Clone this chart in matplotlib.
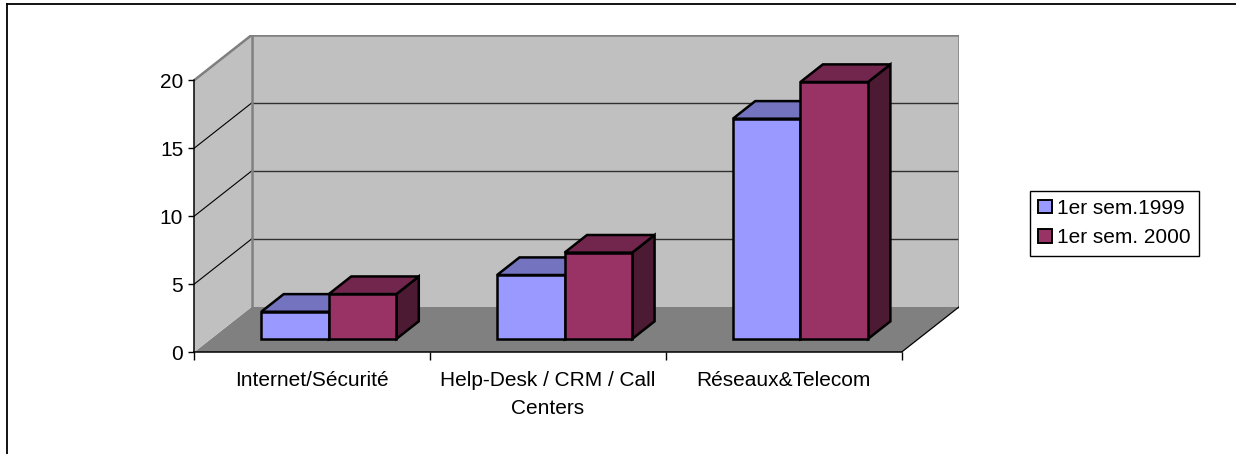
import textwrap
import matplotlib
matplotlib.use("Agg")
import matplotlib.pyplot as plt
from matplotlib.patches import Polygon, Patch
from matplotlib.lines import Line2D

# ---- data ----
categories = ["Internet/Sécurité", "Help-Desk / CRM / Call Centers", "Réseaux&Telecom"]
series_names = ["1er sem.1999", "1er sem. 2000"]
values_1999 = [2.0, 4.7, 16.2]
values_2000 = [3.3, 6.35, 18.9]
y_ticks = [0, 5, 10, 15, 20]

# ---- style ----
front_cols = ["#9999FF", "#993366"]
top_cols = ["#7373BF", "#73264D"]
side_cols = ["#4D4D80", "#4D1A33"]
WALL = "#C0C0C0"
FLOOR = "#808080"
EDGE_GRAY = "#808080"
FONT = "Liberation Sans"
FS = 15

DX, DY = 0.2434, 3.32      # depth offset (category units, value units)
BW = 0.2865                # bar width (category units)
D0, D1 = 0.29, 0.68        # bar depth range
YMAX = 20
N = len(categories)


def P(x, y, d):
    return (x + DX * d, y + DY * d)


fig = plt.figure(figsize=(12.36, 4.54), dpi=100)
ax = fig.add_axes([194.3 / 1236, 102 / 454, 764.8 / 1236, 317 / 454])
ax.set_xlim(0, N + DX)
ax.set_ylim(0, YMAX + DY)
ax.patch.set_visible(False)

# walls and floor
floor = Polygon([P(0, 0, 0), P(N, 0, 0), P(N, 0, 1), P(0, 0, 1)], closed=True,
                facecolor=FLOOR, edgecolor="none", zorder=1)
back = Polygon([P(0, 0, 1), P(N, 0, 1), P(N, YMAX, 1), P(0, YMAX, 1)], closed=True,
               facecolor=WALL, edgecolor="none", zorder=1)
side = Polygon([P(0, 0, 0), P(0, 0, 1), P(0, YMAX, 1), P(0, YMAX, 0)], closed=True,
               facecolor=WALL, edgecolor="none", zorder=1)
for p in (floor, back, side):
    ax.add_patch(p)

# gridlines
for v in y_ticks[1:-1]:
    a, b = P(0, v, 1), P(N, v, 1)
    ax.plot([a[0], b[0]], [a[1], b[1]], color="#303030", lw=1.0, zorder=2)
for v in y_ticks[1:]:
    a, b = P(0, v, 0), P(0, v, 1)
    ax.plot([a[0], b[0]], [a[1], b[1]], color="black", lw=0.8, zorder=2)

# wall edges (gray)
for seg in [(P(0, YMAX, 0), P(0, YMAX, 1)), (P(0, YMAX, 1), P(N, YMAX, 1)),
            (P(N, YMAX, 1), P(N, 0, 1)), (P(0, 0, 1), P(0, YMAX, 1))]:
    ax.plot([seg[0][0], seg[1][0]], [seg[0][1], seg[1][1]], color=EDGE_GRAY,
            lw=1.8, zorder=2, solid_capstyle="projecting")
# floor right edge
a, b = P(N, 0, 0), P(N, 0, 1)
ax.plot([a[0], b[0]], [a[1], b[1]], color="black", lw=0.9, zorder=2)

# bars
z = 3
for i in range(N):
    for j, vals in enumerate([values_1999, values_2000]):
        h = vals[i]
        x0 = i + 0.5 - BW + j * BW
        x1 = x0 + BW
        faces = [
            ([P(x1, 0, D0), P(x1, 0, D1), P(x1, h, D1), P(x1, h, D0)], side_cols[j]),
            ([P(x0, h, D0), P(x1, h, D0), P(x1, h, D1), P(x0, h, D1)], top_cols[j]),
            ([P(x0, 0, D0), P(x1, 0, D0), P(x1, h, D0), P(x0, h, D0)], front_cols[j]),
        ]
        for pts, col in faces:
            ax.add_patch(Polygon(pts, closed=True, facecolor=col, edgecolor="black",
                                 lw=1.8, joinstyle="miter", zorder=z))
            z += 1

# axes
for s in ("top", "right"):
    ax.spines[s].set_visible(False)
ax.spines["left"].set_bounds(0, YMAX)
ax.spines["bottom"].set_bounds(0, N)
for s in ("left", "bottom"):
    ax.spines[s].set_linewidth(1.1)
    ax.spines[s].set_zorder(50)
ax.set_yticks(y_ticks)
ax.set_yticklabels([str(t) for t in y_ticks], fontfamily=FONT, fontsize=FS)
ax.tick_params(axis="y", direction="out", length=4, width=1, pad=4)
ax.set_xticks(range(N + 1))
ax.set_xticklabels([])
ax.tick_params(axis="x", which="major", direction="out", length=6, width=1)
ax.set_xticks([i + 0.5 for i in range(N)], minor=True)
ax.set_xticklabels([textwrap.fill(c, 22) for c in categories], minor=True,
                   fontfamily=FONT, fontsize=FS, linespacing=1.55)
ax.tick_params(axis="x", which="minor", length=0, pad=14)

# legend
handles = [Patch(facecolor=front_cols[k], edgecolor="black", lw=1.4) for k in range(2)]
leg = fig.legend(handles, series_names, loc="upper left",
                 bbox_to_anchor=(1030 / 1236, 1 - 190.5 / 454),
                 prop={"family": FONT, "size": FS}, frameon=True, fancybox=False,
                 edgecolor="black", framealpha=1, borderpad=0.4,
                 handlelength=0.65, handleheight=0.65, handletextpad=0.25,
                 labelspacing=0.5, borderaxespad=0)
leg.get_frame().set_linewidth(1.0)

# chart border (top and left)
fig.add_artist(Line2D([6.5 / 1236, 1], [1 - 3.5 / 454, 1 - 3.5 / 454],
                      transform=fig.transFigure, color="black", lw=1.3))
fig.add_artist(Line2D([6.5 / 1236, 6.5 / 1236], [0, 1 - 3.5 / 454],
                      transform=fig.transFigure, color="black", lw=1.3))

fig.savefig("out.png", dpi=100)
